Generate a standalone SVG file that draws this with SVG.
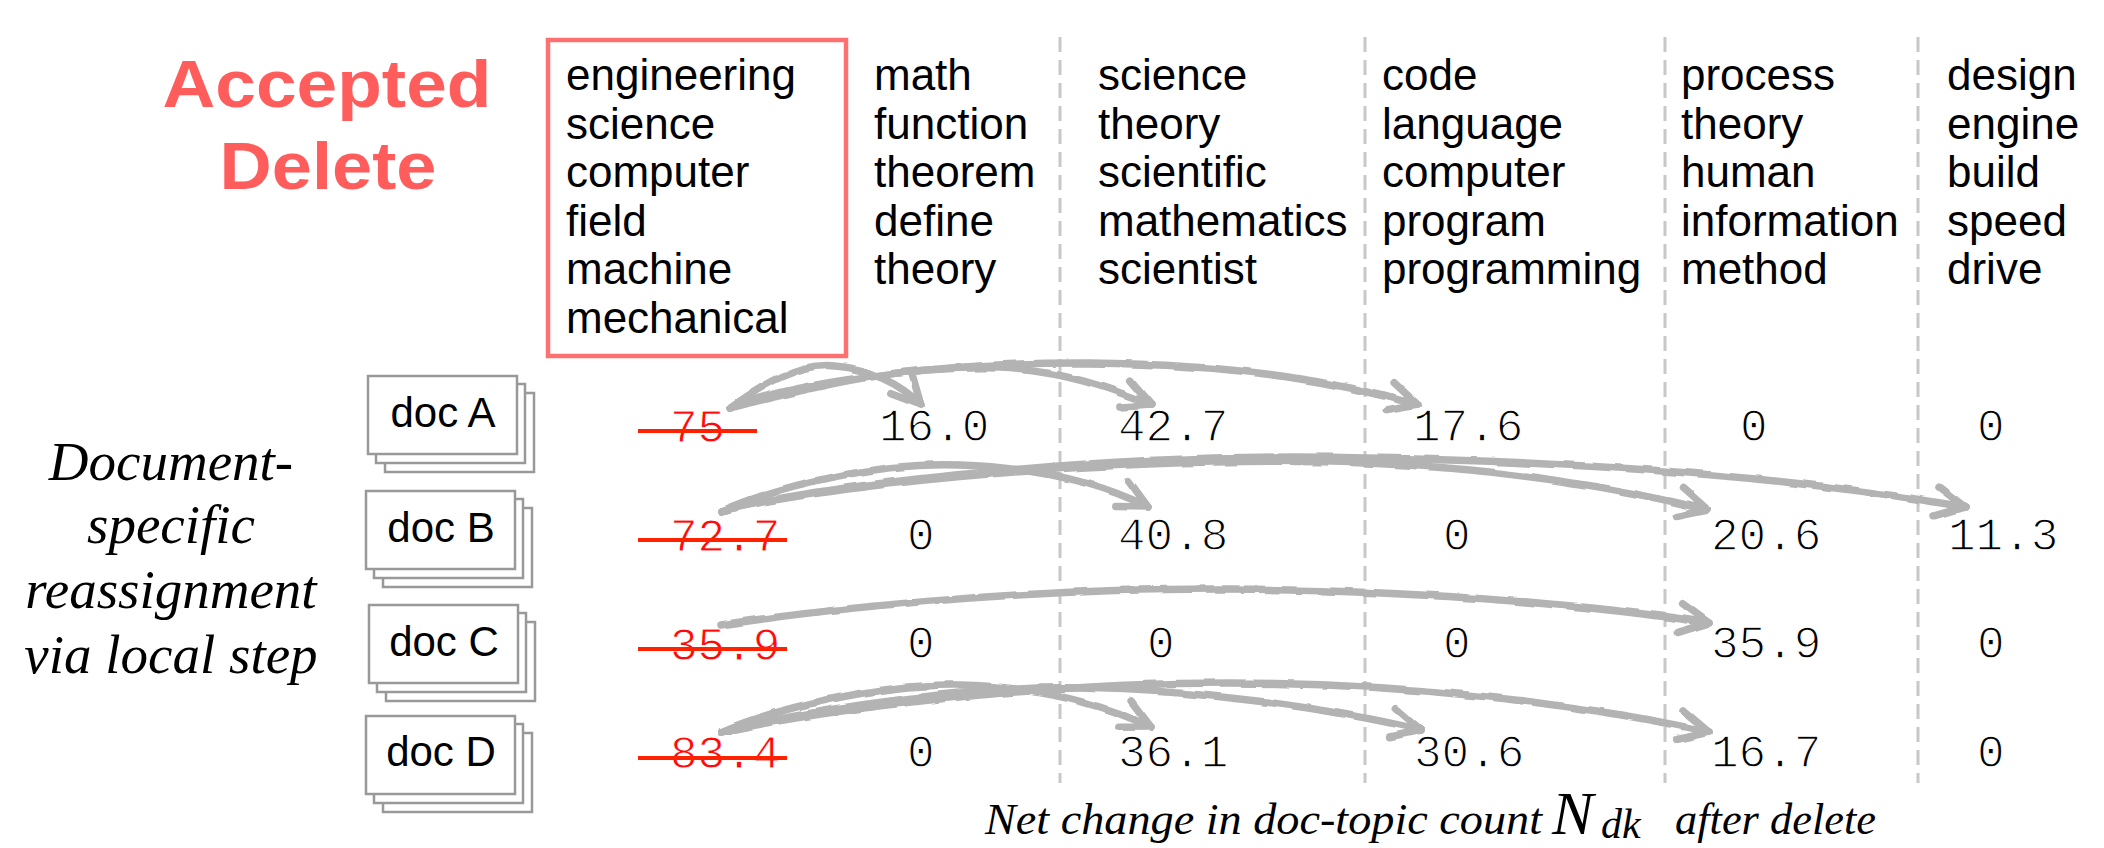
<svg xmlns="http://www.w3.org/2000/svg" width="2104" height="848" viewBox="0 0 2104 848">
<style>
.title{font-family:"Liberation Sans",Arial,sans-serif;font-weight:bold;font-size:67px;fill:#FF5C5C;text-anchor:middle}
.word{font-family:"Liberation Sans",Arial,sans-serif;font-size:44px;fill:#000}
.doc{font-family:"Liberation Sans",Arial,sans-serif;font-size:42px;fill:#000;text-anchor:middle}
.num{font-family:"Liberation Mono","Courier New",monospace;font-size:46px;fill:#000;stroke:#fff;stroke-width:1.3}
.old{font-family:"Liberation Mono","Courier New",monospace;font-size:46px;fill:#FF0A0A;stroke:#fff;stroke-width:0.9}
.strike{stroke:#FF2200;stroke-width:4}
.ital{font-family:"Liberation Serif","Times New Roman",serif;font-style:italic;fill:#000}
.side{font-size:55px;text-anchor:middle}
.cap{font-size:44px}
.sheet{fill:#fff;stroke:#999;stroke-width:2.5}
.divider{stroke:#C8C8C8;stroke-width:3;stroke-dasharray:15 8}
.arrow{fill:none;stroke:#B3B3B3;stroke-width:7.5;stroke-linecap:round;stroke-linejoin:round;marker-end:url(#head)}
</style>
<defs>
<marker id="head" markerUnits="userSpaceOnUse" orient="auto" refX="0" refY="0" markerWidth="44" markerHeight="44" viewBox="-34 -22 44 44" overflow="visible">
<path d="M-29,-15 L0,0 L-29,14" fill="none" stroke="#B3B3B3" stroke-width="7.5" stroke-linecap="round" stroke-linejoin="round"/>
</marker>
<filter id="wobble" x="-5%" y="-30%" width="110%" height="160%">
<feTurbulence type="fractalNoise" baseFrequency="0.05" numOctaves="1" seed="3"/>
<feDisplacementMap in="SourceGraphic" scale="4.5" xChannelSelector="R" yChannelSelector="G"/>
</filter>
</defs>

<g id="title">
<text class="title" x="327" y="107" textLength="329" lengthAdjust="spacingAndGlyphs">Accepted</text>
<text class="title" x="328" y="189" textLength="217" lengthAdjust="spacingAndGlyphs">Delete</text>
</g>

<g id="dividers">
<line class="divider" x1="1060" y1="37" x2="1060" y2="783"/>
<line class="divider" x1="1365" y1="37" x2="1365" y2="783"/>
<line class="divider" x1="1665" y1="37" x2="1665" y2="783"/>
<line class="divider" x1="1918" y1="37" x2="1918" y2="783"/>
</g>

<g id="topic-deleted">
<rect x="548" y="40" width="298" height="316" fill="none" stroke="#FF7070" stroke-width="4.5"/>
<text class="word"><tspan x="566" y="90">engineering</tspan><tspan x="566" y="138.6">science</tspan><tspan x="566" y="187.2">computer</tspan><tspan x="566" y="235.8">field</tspan><tspan x="566" y="284.4">machine</tspan><tspan x="566" y="333">mechanical</tspan></text>
</g>
<g id="topic-2">
<text class="word"><tspan x="874" y="90">math</tspan><tspan x="874" y="138.6">function</tspan><tspan x="874" y="187.2">theorem</tspan><tspan x="874" y="235.8">define</tspan><tspan x="874" y="284.4">theory</tspan></text>
</g>
<g id="topic-3">
<text class="word"><tspan x="1098" y="90">science</tspan><tspan x="1098" y="138.6">theory</tspan><tspan x="1098" y="187.2">scientific</tspan><tspan x="1098" y="235.8">mathematics</tspan><tspan x="1098" y="284.4">scientist</tspan></text>
</g>
<g id="topic-4">
<text class="word"><tspan x="1382" y="90">code</tspan><tspan x="1382" y="138.6">language</tspan><tspan x="1382" y="187.2">computer</tspan><tspan x="1382" y="235.8">program</tspan><tspan x="1382" y="284.4">programming</tspan></text>
</g>
<g id="topic-5">
<text class="word"><tspan x="1681" y="90">process</tspan><tspan x="1681" y="138.6">theory</tspan><tspan x="1681" y="187.2">human</tspan><tspan x="1681" y="235.8">information</tspan><tspan x="1681" y="284.4">method</tspan></text>
</g>
<g id="topic-6">
<text class="word"><tspan x="1947" y="90">design</tspan><tspan x="1947" y="138.6">engine</tspan><tspan x="1947" y="187.2">build</tspan><tspan x="1947" y="235.8">speed</tspan><tspan x="1947" y="284.4">drive</tspan></text>
</g>

<g id="side-label">
<text class="ital side"><tspan x="171" y="480">Document-</tspan><tspan x="171" y="543">specific</tspan><tspan x="171" y="608">reassignment</tspan><tspan x="171" y="673">via local step</tspan></text>
</g>

<g id="docA">
<rect class="sheet" x="385" y="393" width="149" height="79"/>
<rect class="sheet" x="376" y="384" width="149" height="79"/>
<rect class="sheet" x="368" y="376" width="149" height="78"/>
<text class="doc" x="443" y="427">doc A</text>
</g>
<g id="docB">
<rect class="sheet" x="383" y="508" width="149" height="79"/>
<rect class="sheet" x="374" y="499" width="149" height="79"/>
<rect class="sheet" x="366" y="491" width="149" height="78"/>
<text class="doc" x="441" y="542">doc B</text>
</g>
<g id="docC">
<rect class="sheet" x="386" y="622" width="149" height="79"/>
<rect class="sheet" x="377" y="613" width="149" height="79"/>
<rect class="sheet" x="369" y="605" width="149" height="78"/>
<text class="doc" x="444" y="656">doc C</text>
</g>
<g id="docD">
<rect class="sheet" x="383" y="733" width="149" height="79"/>
<rect class="sheet" x="374" y="724" width="149" height="79"/>
<rect class="sheet" x="366" y="716" width="149" height="78"/>
<text class="doc" x="441" y="766">doc D</text>
</g>

<g id="old-counts">
<text class="old" x="670" y="442">75</text>
<line class="strike" x1="638" y1="431" x2="757" y2="431"/>
<text class="old" x="670" y="551">72.7</text>
<line class="strike" x1="638" y1="540" x2="787" y2="540"/>
<text class="old" x="670" y="660">35.9</text>
<line class="strike" x1="638" y1="649" x2="787" y2="649"/>
<text class="old" x="670" y="768">83.4</text>
<line class="strike" x1="638" y1="758" x2="787" y2="758"/>
</g>

<g id="row-A">
<text class="num" x="879" y="441">16.0</text>
<text class="num" x="1118" y="441">42.7</text>
<text class="num" x="1413" y="441">17.6</text>
<text class="num" x="1740" y="441">0</text>
<text class="num" x="1977" y="441">0</text>
</g>
<g id="row-B">
<text class="num" x="907" y="550">0</text>
<text class="num" x="1118" y="550">40.8</text>
<text class="num" x="1443" y="550">0</text>
<text class="num" x="1711" y="550">20.6</text>
<text class="num" x="1948" y="550">11.3</text>
</g>
<g id="row-C">
<text class="num" x="907" y="658">0</text>
<text class="num" x="1147" y="658">0</text>
<text class="num" x="1443" y="658">0</text>
<text class="num" x="1711" y="658">35.9</text>
<text class="num" x="1977" y="658">0</text>
</g>
<g id="row-D">
<text class="num" x="907" y="767">0</text>
<text class="num" x="1118" y="767">36.1</text>
<text class="num" x="1414" y="767">30.6</text>
<text class="num" x="1711" y="767">16.7</text>
<text class="num" x="1977" y="767">0</text>
</g>

<g id="connectors" filter="url(#wobble)">
<path class="arrow" d="M730,408 C762,385 800,362 835,366 C868,369 900,383 921,405"/>
<path class="arrow" d="M730,408 C820,385 900,365 1000,368 C1060,370 1110,388 1152,405"/>
<path class="arrow" d="M730,408 C800,380 950,362 1090,363 C1250,365 1340,383 1418,405"/>
<path class="arrow" d="M721,511 C780,485 880,462 960,465 C1040,468 1100,483 1148,507"/>
<path class="arrow" d="M721,511 C850,480 1150,455 1365,463 C1500,468 1620,488 1708,510"/>
<path class="arrow" d="M721,511 C850,478 1150,452 1365,458 C1600,462 1800,478 1965,507"/>
<path class="arrow" d="M721,625 C850,605 1050,588 1230,589 C1400,590 1580,603 1709,623"/>
<path class="arrow" d="M721,732 C770,710 880,683 960,685 C1040,687 1100,703 1151,727"/>
<path class="arrow" d="M721,732 C830,705 980,686 1080,688 C1200,690 1330,708 1421,730"/>
<path class="arrow" d="M721,732 C850,705 1050,683 1230,683 C1400,683 1580,703 1709,732"/>
</g>

<g id="caption">
<text class="ital cap" x="985" y="834" textLength="557" lengthAdjust="spacingAndGlyphs">Net change in doc-topic count</text>
<text class="ital" x="1552" y="834" font-size="62">N</text>
<text class="ital" x="1601" y="838" font-size="42">dk</text>
<text class="ital cap" x="1675" y="834" textLength="201" lengthAdjust="spacingAndGlyphs">after delete</text>
</g>
</svg>
